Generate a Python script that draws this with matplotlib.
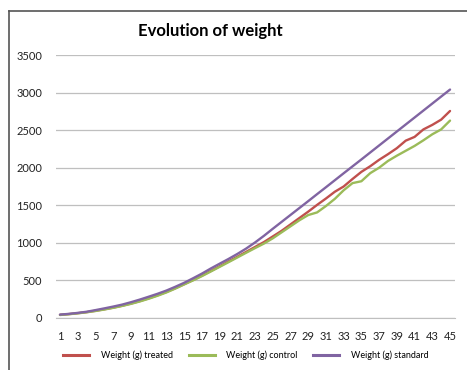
import matplotlib.pyplot as plt
from matplotlib.lines import Line2D

days = list(range(1, 46))

# weight (g) per day
treated = [42, 52, 64, 78, 96, 116, 138, 163, 192, 225,
           262, 302, 346, 396, 450, 505, 563, 625, 688, 752,
           815, 880, 945, 1010, 1085, 1160, 1245, 1330, 1415, 1505,
           1590, 1680, 1750, 1850, 1945, 2020, 2105, 2180, 2260, 2360,
           2410, 2510, 2570, 2640, 2755]
control = [40, 50, 62, 76, 93, 113, 135, 160, 188, 220,
           256, 296, 340, 391, 446, 500, 557, 618, 680, 742,
           805, 868, 930, 990, 1060, 1140, 1220, 1300, 1370, 1405,
           1490, 1585, 1700, 1795, 1820, 1928, 2000, 2090, 2160, 2225,
           2290, 2365, 2445, 2510, 2627]
standard = [45, 55, 68, 83, 105, 128, 152, 178, 210, 245,
            283, 322, 365, 415, 468, 528, 590, 658, 722, 785,
            852, 924, 1005, 1093, 1187, 1279, 1371, 1463, 1555, 1648,
            1740, 1833, 1926, 2018, 2110, 2203, 2296, 2389, 2482, 2575,
            2668, 2761, 2854, 2947, 3040]

labels = ['Weight (g) treated', 'Weight (g) control', 'Weight (g) standard']
colors = ['#C0504D', '#9BBB59', '#8064A2']

plt.rcParams['font.family'] = ['Lato', 'DejaVu Sans']

fig = plt.figure(figsize=(4.67, 3.70), dpi=100)
ax = fig.add_axes([56/467, 1-318/370, (455-56)/467, (318-55)/370])

for ys, c in zip([treated, control, standard], colors):
    ax.plot(days, ys, color=c, lw=1.7, solid_capstyle='round')

ax.set_ylim(0, 3500)
ax.set_xlim(0.55, 45.56)
ax.set_yticks(range(0, 3501, 500))
ax.set_xticks(days[::2])
ax.grid(axis='y', color='#bfbfbf', lw=0.9)
ax.set_axisbelow(True)
for s in ['top', 'right', 'left']:
    ax.spines[s].set_visible(False)
ax.spines['bottom'].set_color('#bfbfbf')
ax.tick_params(length=0, labelsize=8, colors='#222222')
ax.tick_params(axis='x', pad=9)
ax.tick_params(axis='y', pad=10)

fig.text(210/467, 1-31/370, 'Evolution of weight', ha='center', va='center',
         fontsize=12, fontweight='bold')

handles = [Line2D([], [], color=c, lw=2.2) for c in colors]
fig.legend(handles, labels, loc='center', ncol=3, frameon=False,
           bbox_to_anchor=(246/467, 1-355/370), fontsize=6.5,
           handlelength=2.9, handletextpad=1.3, columnspacing=1.7)

# chart frame
fig.add_artist(Line2D([9/467, 9/467], [-0.05, 1-11/370], color='#555555', lw=1.2,
                      transform=fig.transFigure))
fig.add_artist(Line2D([9/467, 1.05], [1-11/370, 1-11/370], color='#555555', lw=1.2,
                      transform=fig.transFigure))

fig.savefig('out.png', dpi=100)
